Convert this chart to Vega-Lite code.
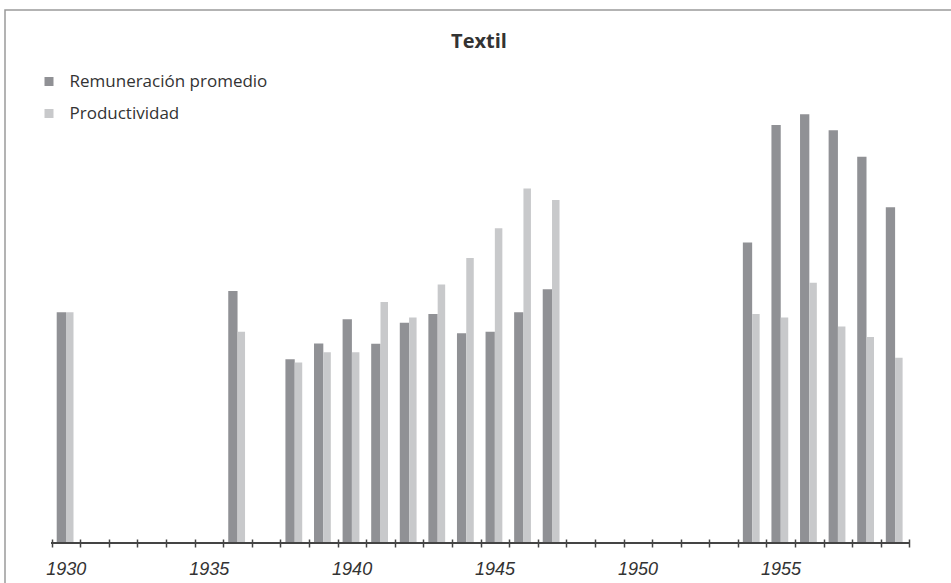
{
  "$schema": "https://vega.github.io/schema/vega-lite/v6.json",
  "autosize": {"type": "none"},
  "padding": {"left": 5, "top": 10, "right": 0, "bottom": 0},
  "width": 955,
  "height": 580,
  "background": "white",
  "config": {
    "view": {"stroke": "#9a9a9a", "strokeWidth": 1.5},
    "font": "Open Sans"
  },
  "title": {
    "text": "Textil",
    "anchor": "middle",
    "frame": "group",
    "offset": -58,
    "dx": -3.5,
    "baseline": "alphabetic",
    "font": "Open Sans",
    "fontSize": 20,
    "fontWeight": "bold",
    "color": "#333333"
  },
  "datasets": {
    "textil": [
      {"anio": 1930, "serie": "Remuneración promedio", "valor": 100},
      {"anio": 1936, "serie": "Remuneración promedio", "valor": 109.2},
      {"anio": 1938, "serie": "Remuneración promedio", "valor": 79.6},
      {"anio": 1939, "serie": "Remuneración promedio", "valor": 86.5},
      {"anio": 1940, "serie": "Remuneración promedio", "valor": 97.0},
      {"anio": 1941, "serie": "Remuneración promedio", "valor": 86.4},
      {"anio": 1942, "serie": "Remuneración promedio", "valor": 95.5},
      {"anio": 1943, "serie": "Remuneración promedio", "valor": 99.3},
      {"anio": 1944, "serie": "Remuneración promedio", "valor": 90.9},
      {"anio": 1945, "serie": "Remuneración promedio", "valor": 91.6},
      {"anio": 1946, "serie": "Remuneración promedio", "valor": 100},
      {"anio": 1947, "serie": "Remuneración promedio", "valor": 110.0},
      {"anio": 1954, "serie": "Remuneración promedio", "valor": 130.3},
      {"anio": 1955, "serie": "Remuneración promedio", "valor": 181.2},
      {"anio": 1956, "serie": "Remuneración promedio", "valor": 185.8},
      {"anio": 1957, "serie": "Remuneración promedio", "valor": 178.9},
      {"anio": 1958, "serie": "Remuneración promedio", "valor": 167.4},
      {"anio": 1959, "serie": "Remuneración promedio", "valor": 145.5},
      {"anio": 1930, "serie": "Productividad", "valor": 100},
      {"anio": 1936, "serie": "Productividad", "valor": 91.6},
      {"anio": 1938, "serie": "Productividad", "valor": 78.2},
      {"anio": 1939, "serie": "Productividad", "valor": 82.7},
      {"anio": 1940, "serie": "Productividad", "valor": 82.7},
      {"anio": 1941, "serie": "Productividad", "valor": 104.5},
      {"anio": 1942, "serie": "Productividad", "valor": 97.8},
      {"anio": 1943, "serie": "Productividad", "valor": 112.1},
      {"anio": 1944, "serie": "Productividad", "valor": 123.5},
      {"anio": 1945, "serie": "Productividad", "valor": 136.4},
      {"anio": 1946, "serie": "Productividad", "valor": 153.7},
      {"anio": 1947, "serie": "Productividad", "valor": 148.7},
      {"anio": 1954, "serie": "Productividad", "valor": 99.3},
      {"anio": 1955, "serie": "Productividad", "valor": 97.8},
      {"anio": 1956, "serie": "Productividad", "valor": 112.8},
      {"anio": 1957, "serie": "Productividad", "valor": 93.9},
      {"anio": 1958, "serie": "Productividad", "valor": 89.3},
      {"anio": 1959, "serie": "Productividad", "valor": 80.3}
    ]
  },
  "data": {"name": "textil"},
  "layer": [
    {
      "transform": [{"filter": "datum.serie === 'Remuneración promedio'"}],
      "mark": {"type": "bar", "width": 9.3, "xOffset": -4.65},
      "encoding": {
        "x": {
          "field": "anio",
          "type": "quantitative",
          "scale": {"domain": [1927.866, 1961.27], "nice": false, "zero": false, "padding": 0},
          "axis": {
            "title": null,
            "orient": "bottom",
            "offset": -51,
            "domain": false,
            "grid": false,
            "tickCount": 60,
            "values": [1929.5, 1930.5, 1931.5, 1932.5, 1933.5, 1934.5, 1935.5, 1936.5, 1937.5, 1938.5, 1939.5, 1940.5, 1941.5, 1942.5, 1943.5, 1944.5, 1945.5, 1946.5, 1947.5, 1948.5, 1949.5, 1950.5, 1951.5, 1952.5, 1953.5, 1954.5, 1955.5, 1956.5, 1957.5, 1958.5, 1959.5],
            "tickSize": 8,
            "tickWidth": 1.5,
            "tickColor": "#444444",
            "labelExpr": "(datum.value + 0.5) % 5 == 0 && datum.value < 1959 ? '' + (datum.value + 0.5) : ''",
            "labelOffset": 14,
            "labelPadding": 13,
            "labelFont": "Liberation Sans",
            "labelFontSize": 18,
            "labelFontStyle": "italic",
            "labelColor": "#333333",
            "labelBound": false,
            "labelOverlap": false,
            "labelFlush": false
          }
        },
        "y": {
          "field": "valor",
          "type": "quantitative",
          "scale": {"domain": [-20.37, 231.04], "nice": false, "zero": false, "padding": 0},
          "axis": null
        },
        "y2": {"datum": 0},
        "color": {
          "field": "serie",
          "type": "nominal",
          "scale": {"domain": ["Remuneración promedio", "Productividad"], "range": ["#909195", "#c8c9cb"]},
          "legend": {
            "title": null,
            "orient": "none",
            "legendX": 35.5,
            "legendY": 63,
            "padding": 0,
            "symbolType": "square",
            "symbolSize": 81,
            "symbolStrokeWidth": 0,
            "labelFont": "Open Sans",
            "labelFontSize": 17,
            "labelColor": "#333333",
            "labelOffset": 12,
            "labelLimit": 400,
            "rowPadding": 14
          }
        }
      }
    },
    {
      "transform": [{"filter": "datum.serie === 'Productividad'"}],
      "mark": {"type": "bar", "width": 7.5, "xOffset": 3.75},
      "encoding": {
        "x": {"field": "anio", "type": "quantitative"},
        "y": {"field": "valor", "type": "quantitative"},
        "y2": {"datum": 0},
        "color": {"field": "serie", "type": "nominal"}
      }
    },
    {
      "mark": {"type": "rule", "color": "#444444", "strokeWidth": 1.5},
      "encoding": {
        "x": {"datum": 1929.5, "type": "quantitative"},
        "x2": {"datum": 1959.5},
        "y": {"datum": 0, "type": "quantitative"}
      }
    }
  ]
}
